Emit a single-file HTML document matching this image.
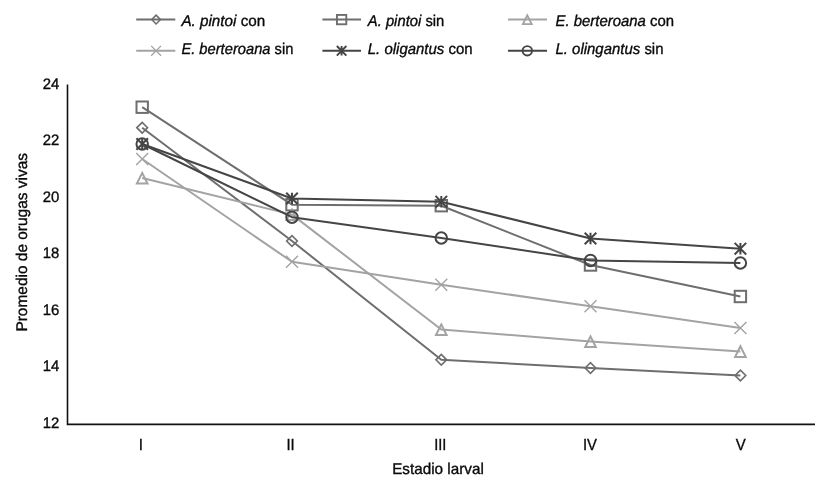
<!DOCTYPE html>
<html><head><meta charset="utf-8"><title>Chart</title>
<style>
html,body{margin:0;padding:0;background:#fff;}
body{width:830px;height:487px;overflow:hidden;}
svg{display:block;will-change:transform;}
text{font-family:"Liberation Sans",sans-serif;font-size:15.5px;text-rendering:geometricPrecision;fill:#0a0a0a;stroke:#0a0a0a;stroke-width:0.35px;}
.i{font-style:italic;}
text.n{font-size:16px;}
text.d{font-size:15.2px;}
</style></head><body>
<svg width="830" height="487" viewBox="0 0 830 487">
<rect width="830" height="487" fill="#fff"/>

<path d="M67.5 84.5V424.4H815" fill="none" stroke="#111" stroke-width="1.6"/>
<text x="59.4" y="88.8" class="d" text-anchor="end" textLength="16.6" lengthAdjust="spacingAndGlyphs">24</text>
<text x="59.4" y="145.2" class="d" text-anchor="end" textLength="16.6" lengthAdjust="spacingAndGlyphs">22</text>
<text x="59.4" y="201.8" class="d" text-anchor="end" textLength="16.6" lengthAdjust="spacingAndGlyphs">20</text>
<text x="59.4" y="258.2" class="d" text-anchor="end" textLength="16.6" lengthAdjust="spacingAndGlyphs">18</text>
<text x="59.4" y="314.8" class="d" text-anchor="end" textLength="16.6" lengthAdjust="spacingAndGlyphs">16</text>
<text x="59.4" y="371.2" class="d" text-anchor="end" textLength="16.6" lengthAdjust="spacingAndGlyphs">14</text>
<text x="59.4" y="427.8" class="d" text-anchor="end" textLength="16.6" lengthAdjust="spacingAndGlyphs">12</text>
<text x="140.9" y="450.0" class="n" text-anchor="middle" textLength="4.2" lengthAdjust="spacingAndGlyphs">I</text>
<text x="290.6" y="450.0" class="n" text-anchor="middle" textLength="8.2" lengthAdjust="spacingAndGlyphs">II</text>
<text x="440.3" y="450.0" class="n" text-anchor="middle" textLength="12.2" lengthAdjust="spacingAndGlyphs">III</text>
<text x="590.0" y="450.0" class="n" text-anchor="middle" textLength="14.0" lengthAdjust="spacingAndGlyphs">IV</text>
<text x="740.8" y="450.0" class="n" text-anchor="middle" textLength="10.0" lengthAdjust="spacingAndGlyphs">V</text>
<text x="392.2" y="473.9" textLength="91.6" lengthAdjust="spacingAndGlyphs">Estadio larval</text>
<text transform="translate(26.5,331.6) rotate(-90)" textLength="178.6" lengthAdjust="spacingAndGlyphs">Promedio de orugas vivas</text>
<polyline points="142.2,127.7 292.0,241.0 441.3,359.8 590.5,368.0 740.4,375.5" fill="none" stroke="#6e6e6e" stroke-width="2" stroke-linejoin="round"/>
<path d="M136.85 127.70L142.20 122.35L147.55 127.70L142.20 133.05Z" fill="none" stroke="#6e6e6e" stroke-width="1.64"/>
<path d="M286.65 241.00L292.00 235.65L297.35 241.00L292.00 246.35Z" fill="none" stroke="#6e6e6e" stroke-width="1.64"/>
<path d="M435.95 359.80L441.30 354.45L446.65 359.80L441.30 365.15Z" fill="none" stroke="#6e6e6e" stroke-width="1.64"/>
<path d="M585.15 368.00L590.50 362.65L595.85 368.00L590.50 373.35Z" fill="none" stroke="#6e6e6e" stroke-width="1.64"/>
<path d="M735.05 375.50L740.40 370.15L745.75 375.50L740.40 380.85Z" fill="none" stroke="#6e6e6e" stroke-width="1.64"/>
<polyline points="142.2,107.2 292.0,204.7 441.3,205.7 590.5,265.0 740.4,296.5" fill="none" stroke="#6e6e6e" stroke-width="2" stroke-linejoin="round"/>
<rect x="136.50" y="101.50" width="11.40" height="11.40" fill="none" stroke="#6e6e6e" stroke-width="2.0"/>
<rect x="286.30" y="199.00" width="11.40" height="11.40" fill="none" stroke="#6e6e6e" stroke-width="2.0"/>
<rect x="435.60" y="200.00" width="11.40" height="11.40" fill="none" stroke="#6e6e6e" stroke-width="2.0"/>
<rect x="584.80" y="259.30" width="11.40" height="11.40" fill="none" stroke="#6e6e6e" stroke-width="2.0"/>
<rect x="734.70" y="290.80" width="11.40" height="11.40" fill="none" stroke="#6e6e6e" stroke-width="2.0"/>
<polyline points="142.2,178.0 292.0,214.6 441.3,329.5 590.5,341.5 740.4,351.4" fill="none" stroke="#a3a3a3" stroke-width="2" stroke-linejoin="round"/>
<path d="M142.20 172.90L147.50 183.50L136.90 183.50Z" fill="none" stroke="#a3a3a3" stroke-width="2.0"/>
<path d="M292.00 209.50L297.30 220.10L286.70 220.10Z" fill="none" stroke="#a3a3a3" stroke-width="2.0"/>
<path d="M441.30 324.40L446.60 335.00L436.00 335.00Z" fill="none" stroke="#a3a3a3" stroke-width="2.0"/>
<path d="M590.50 336.40L595.80 347.00L585.20 347.00Z" fill="none" stroke="#a3a3a3" stroke-width="2.0"/>
<path d="M740.40 346.30L745.70 356.90L735.10 356.90Z" fill="none" stroke="#a3a3a3" stroke-width="2.0"/>
<polyline points="142.2,159.0 292.0,261.8 441.3,284.8 590.5,306.2 740.4,328.0" fill="none" stroke="#a3a3a3" stroke-width="2" stroke-linejoin="round"/>
<path d="M136.20 153.00L148.20 165.00M148.20 153.00L136.20 165.00" fill="none" stroke="#a3a3a3" stroke-width="1.4"/>
<path d="M286.00 255.80L298.00 267.80M298.00 255.80L286.00 267.80" fill="none" stroke="#a3a3a3" stroke-width="1.4"/>
<path d="M435.30 278.80L447.30 290.80M447.30 278.80L435.30 290.80" fill="none" stroke="#a3a3a3" stroke-width="1.4"/>
<path d="M584.50 300.20L596.50 312.20M596.50 300.20L584.50 312.20" fill="none" stroke="#a3a3a3" stroke-width="1.4"/>
<path d="M734.40 322.00L746.40 334.00M746.40 322.00L734.40 334.00" fill="none" stroke="#a3a3a3" stroke-width="1.4"/>
<polyline points="142.2,144.0 292.0,198.5 441.3,201.7 590.5,238.5 740.4,248.7" fill="none" stroke="#454545" stroke-width="2" stroke-linejoin="round"/>
<path d="M136.40 138.20L148.00 149.80M148.00 138.20L136.40 149.80M142.20 138.20L142.20 149.80" fill="none" stroke="#454545" stroke-width="2.0"/>
<path d="M286.20 192.70L297.80 204.30M297.80 192.70L286.20 204.30M292.00 192.70L292.00 204.30" fill="none" stroke="#454545" stroke-width="2.0"/>
<path d="M435.50 195.90L447.10 207.50M447.10 195.90L435.50 207.50M441.30 195.90L441.30 207.50" fill="none" stroke="#454545" stroke-width="2.0"/>
<path d="M584.70 232.70L596.30 244.30M596.30 232.70L584.70 244.30M590.50 232.70L590.50 244.30" fill="none" stroke="#454545" stroke-width="2.0"/>
<path d="M734.60 242.90L746.20 254.50M746.20 242.90L734.60 254.50M740.40 242.90L740.40 254.50" fill="none" stroke="#454545" stroke-width="2.0"/>
<polyline points="142.2,144.0 292.0,217.2 441.3,238.0 590.5,260.4 740.4,263.0" fill="none" stroke="#454545" stroke-width="2" stroke-linejoin="round"/>
<circle cx="142.20" cy="144.00" r="5.75" fill="none" stroke="#454545" stroke-width="2.0"/>
<circle cx="292.00" cy="217.20" r="5.75" fill="none" stroke="#454545" stroke-width="2.0"/>
<circle cx="441.30" cy="238.00" r="5.75" fill="none" stroke="#454545" stroke-width="2.0"/>
<circle cx="590.50" cy="260.40" r="5.75" fill="none" stroke="#454545" stroke-width="2.0"/>
<circle cx="740.40" cy="263.00" r="5.75" fill="none" stroke="#454545" stroke-width="2.0"/>
<path d="M136.2 19.6H175.3" stroke="#6e6e6e" stroke-width="2" fill="none"/>
<path d="M151.71 19.60L156.10 15.21L160.49 19.60L156.10 23.99Z" fill="none" stroke="#6e6e6e" stroke-width="1.5579999999999998"/>
<text x="181.4" y="25.8" textLength="83.8" lengthAdjust="spacingAndGlyphs"><tspan class="i">A. pintoi</tspan> con</text>
<path d="M322.4 19.6H361.0" stroke="#6e6e6e" stroke-width="2" fill="none"/>
<rect x="336.93" y="14.93" width="9.35" height="9.35" fill="none" stroke="#6e6e6e" stroke-width="1.9"/>
<text x="367.8" y="25.8" textLength="76.5" lengthAdjust="spacingAndGlyphs"><tspan class="i">A. pintoi</tspan> sin</text>
<path d="M508.0 19.6H547.0" stroke="#a3a3a3" stroke-width="2" fill="none"/>
<path d="M527.30 15.45L531.65 24.15L522.95 24.15Z" fill="none" stroke="#a3a3a3" stroke-width="1.9"/>
<text x="555.5" y="25.8" textLength="118.6" lengthAdjust="spacingAndGlyphs"><tspan class="i">E. berteroana</tspan> con</text>
<path d="M136.2 50.8H175.3" stroke="#a3a3a3" stroke-width="2" fill="none"/>
<path d="M151.18 45.88L161.02 55.72M161.02 45.88L151.18 55.72" fill="none" stroke="#a3a3a3" stroke-width="1.3299999999999998"/>
<text x="181.4" y="53.5" textLength="112.0" lengthAdjust="spacingAndGlyphs"><tspan class="i">E. berteroana</tspan> sin</text>
<path d="M322.4 50.8H361.0" stroke="#454545" stroke-width="2" fill="none"/>
<path d="M336.84 46.04L346.36 55.56M346.36 46.04L336.84 55.56M341.60 46.04L341.60 55.56" fill="none" stroke="#454545" stroke-width="1.9"/>
<text x="367.8" y="53.5" textLength="104.8" lengthAdjust="spacingAndGlyphs"><tspan class="i">L. oligantus</tspan> con</text>
<path d="M508.0 50.8H547.0" stroke="#454545" stroke-width="2" fill="none"/>
<circle cx="527.30" cy="50.80" r="4.71" fill="none" stroke="#454545" stroke-width="1.9"/>
<text x="555.5" y="53.5" textLength="108.0" lengthAdjust="spacingAndGlyphs"><tspan class="i">L. olingantus</tspan> sin</text>
</svg></body></html>
